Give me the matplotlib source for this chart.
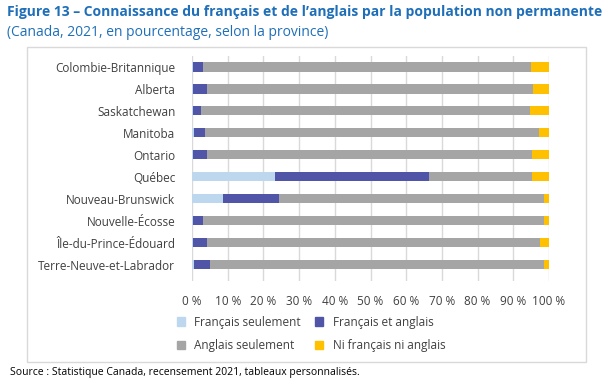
import numpy as np
import matplotlib.pyplot as plt
from matplotlib.patches import Patch, Rectangle

plt.rcParams['font.family'] = ['Open Sans', 'DejaVu Sans']

provinces = ["Colombie-Britannique", "Alberta", "Saskatchewan", "Manitoba", "Ontario",
             "Québec", "Nouveau-Brunswick", "Nouvelle-Écosse", "Île-du-Prince-Édouard",
             "Terre-Neuve-et-Labrador"]
fr_seul = [0.3, 0.3, 0.2, 0.5, 0.4, 23.2, 8.8, 0.3, 0.3, 0.5]
fr_et_an = [2.9, 3.9, 2.2, 3.2, 3.9, 43.3, 15.6, 2.8, 4.0, 4.5]
an_seul = [91.8, 91.4, 92.4, 93.6, 90.8, 28.7, 74.1, 95.4, 93.3, 93.5]
ni = [5.0, 4.4, 5.2, 2.7, 4.9, 4.8, 1.5, 1.5, 2.4, 1.5]

series = [("Français seulement", fr_seul, "#bdd7ee"),
          ("Français et anglais", fr_et_an, "#5055a8"),
          ("Anglais seulement", an_seul, "#a5a5a5"),
          ("Ni français ni anglais", ni, "#ffc000")]

fig = plt.figure(figsize=(6.16, 3.91), dpi=100)
ax = fig.add_axes([192/616, 1-281/391, 357/616, 225/391])

y = np.arange(len(provinces))
left = np.zeros(len(provinces))
for name, vals, col in series:
    ax.barh(y, vals, left=left, height=0.41, color=col, zorder=3)
    left += np.array(vals)

ax.set_xlim(0, 100)
ax.set_ylim(9.73, -0.5)
ax.set_xticks(np.arange(0, 101, 10))
ax.set_xticklabels([f"{v} %" for v in range(0, 101, 10)])
ax.set_yticks(y)
ax.set_yticklabels(provinces)
ax.tick_params(axis='both', length=0, labelsize=8.5, colors="#404040")
ax.tick_params(axis='x', pad=10)
ax.tick_params(axis='y', pad=12)
ax.grid(axis='x', color="#d9d9d9", lw=1, zorder=0)
for s in ax.spines.values():
    s.set_visible(False)

handles = [Patch(color=c) for _, _, c in series]
labels = [n for n, _, _ in series]
order = [0, 2, 1, 3]
fig.legend([handles[i] for i in order], [labels[i] for i in order], ncol=2,
           loc='center', bbox_to_anchor=(311/616, 1-334/391), frameon=False,
           fontsize=8.5, handlelength=0.7, handleheight=0.7, handletextpad=0.8,
           columnspacing=1.2, labelspacing=0.9, labelcolor="#404040")

fig.patches.append(Rectangle((27/616, 1-362/391), 559/616, 315/391, transform=fig.transFigure,
                             fill=False, edgecolor="#d9d9d9", lw=1))

fig.text(7/616, 1-12/391, "Figure 13 – Connaissance du français et de l’anglais par la population non permanente",
         fontsize=10, fontweight='bold', color="#1f6fb8", va='center')
fig.text(7/616, 1-32/391, "(Canada, 2021, en pourcentage, selon la province)",
         fontsize=10, color="#1f6fb8", va='center')
fig.text(10/616, 1-373/391, "Source : Statistique Canada, recensement 2021, tableaux personnalisés.",
         fontsize=7.5, color="#000000", va='center')

fig.savefig("out.png", dpi=100)
